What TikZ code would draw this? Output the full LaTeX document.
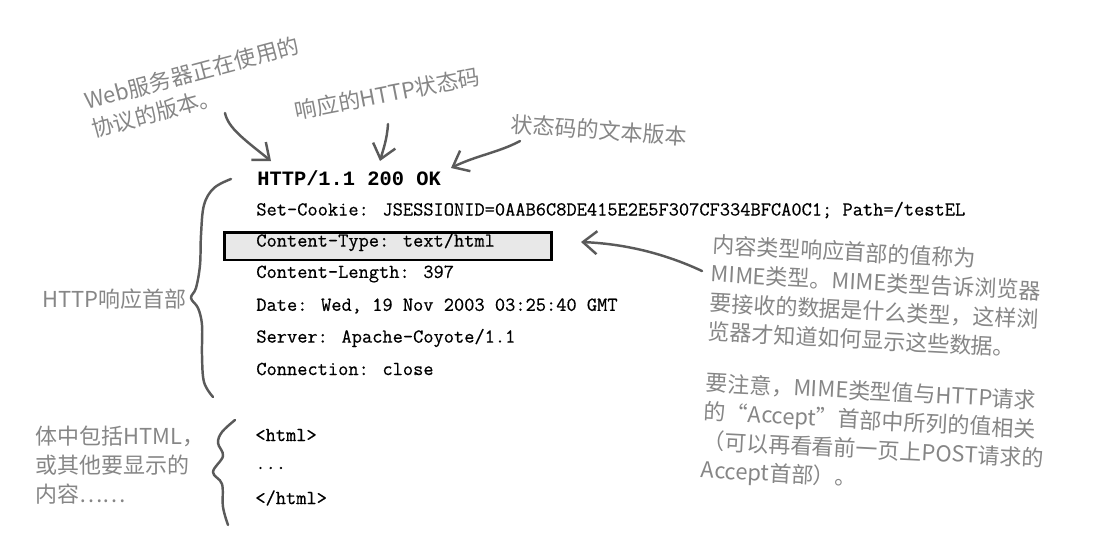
\documentclass[tikz,border=0pt]{standalone}
\usepackage{fontspec}
\usepackage{tikz}
\usetikzlibrary{arrows.meta}
\usetikzlibrary{positioning}
\newfontfamily\cjkfont{Noto Sans CJK SC}
\newfontfamily\boldmono{Liberation Mono}
\newfontfamily\codemono[FakeBold=0.5]{Latin Modern Mono}
\definecolor{notegray}{HTML}{868686}
\definecolor{pengray}{HTML}{5A5A5A}
\tikzset{
  note/.style={text=notegray, inner sep=0, align=left, font=\cjkfont\fontsize{12.5}{16.5}\selectfont},
  code/.style={anchor=west, inner sep=0, font=\codemono\fontsize{11.3}{13}\selectfont},
  pen/.style={draw=pengray, line width=1.4pt, line cap=round, line join=round},
  pointer/.style={pen, -{Straight Barb[length=2.8mm,width=4.6mm]}},
  hlbox/.style={draw=black, line width=1.7pt, fill=black!9, minimum width=6.55cm, minimum height=0.56cm, inner sep=0}
}

\begin{document}
\begin{tikzpicture}[x=0.02cm, y=-0.02cm]
\useasboundingbox (0,0) rectangle (1105,558);

% the response lines
\node[hlbox] (ctbox) at (388,246) {};
\node[code, font=\boldmono\bfseries\fontsize{11.6}{13}\selectfont] (status) at (257,178) {HTTP/1.1 200 OK};
\node[code] (cookie) at (256,210) {Set-Cookie: JSESSIONID=0AAB6C8DE415E2E5F307CF334BFCA0C1; Path=/testEL};
\node[code] (ctype) at (256,242) {Content-Type: text/html};
\node[code] (clen) at (256,274) {Content-Length: 397};
\node[code] (date) at (256,306) {Date: Wed, 19 Nov 2003 03:25:40 GMT};
\node[code] (server) at (256,338) {Server: Apache-Coyote/1.1};
\node[code] (conn) at (256,369) {Connection: close};
\node[code] (htmlopen) at (255,435) {<html>};
\node[code] (dots) at (255,468) {...};
\node[code] (htmlclose) at (255,498) {</html>};

% notes
\node[note, rotate=15, anchor=south west] (vernote) at (95,140) {Web服务器正在使用的\\协议的版本。};
\node[note, rotate=11, anchor=south west] (codenote) at (297,122) {响应的HTTP状态码};
\node[note, rotate=-4, anchor=west] (textnote) at (511,124) {状态码的文本版本};
\node[note, anchor=west] (headnote) at (42,299) {HTTP响应首部};
\node[note, anchor=north west] (bodynote) at (35,426) {体中包括HTML，\\或其他要显示的\\内容……};
\node[note, rotate=-3, anchor=north west] (mimenote) at (713,234) {内容类型响应首部的值称为\\MIME类型。MIME类型告诉浏览器\\要接收的数据是什么类型，这样浏\\览器才知道如何显示这些数据。};
\node[note, rotate=-3, anchor=north west] (acceptnote) at (706,372) {要注意，MIME类型值与HTTP请求\\的“Accept”首部中所列的值相关\\（可以再看看前一页上POST请求的\\Accept首部）。};

% arrow ends
\coordinate (vertail) at (225,113);
\coordinate (vertip) at (271,161);
\coordinate (codetail) at (388,124);
\coordinate (codetip) at (380,161);
\coordinate (texttail) at (520,141);
\coordinate (texttip) at (451,168);
\coordinate (mimetail) at (702,271);
\coordinate (mimetip) at (581,242);

\draw[pointer] (vertail) .. controls (228,128) and (245,140) .. (vertip);
\draw[pointer] (codetail) .. controls (387,140) and (383,150) .. (codetip);
\draw[pointer] (texttail) .. controls (500,152) and (475,156) .. (texttip);
\draw[pointer] (mimetail) .. controls (670,256) and (630,244) .. (mimetip);

% braces
\draw[pen] plot[smooth, tension=0.6] coordinates {(231,179) (214,188) (204,205) (201,235) (200,265) (196,288) (191,298) (198,308) (202,325) (202,355) (204,382) (213,397)};
\draw[pen] plot[smooth, tension=0.6] coordinates {(235,420) (222,432) (218,443) (223,456) (213,472) (222,484) (223,507) (228,525)};
\end{tikzpicture}
\end{document}
